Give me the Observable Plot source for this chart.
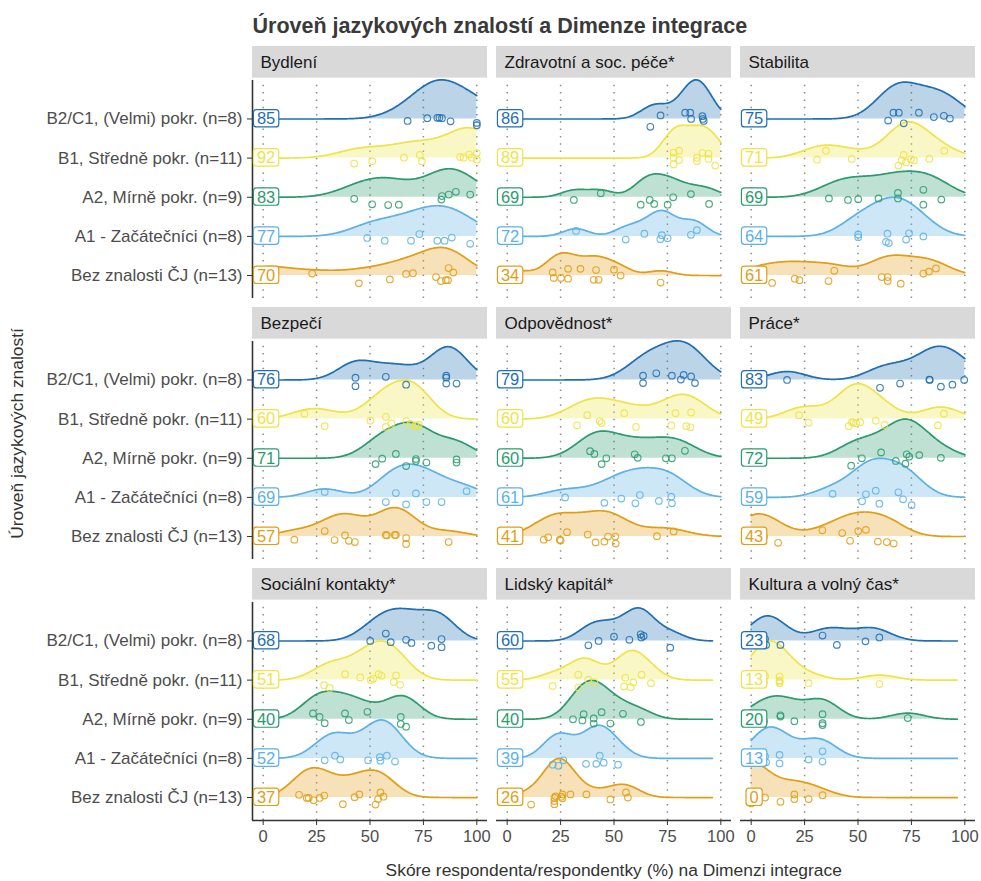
<!DOCTYPE html>
<html>
<head>
<meta charset="utf-8">
<script src="https://cdn.jsdelivr.net/npm/d3@7"></script>
<script src="https://cdn.jsdelivr.net/npm/@observablehq/plot@0.6"></script>
<style>
  body { margin: 0; background: #fff; }
  svg { display: block; }
</style>
</head>
<body>
<div id="chart"></div>
<script>
// ---------------- DATA ----------------
const chartTitle = "Úroveň jazykových znalostí a Dimenze integrace";
const xTitle = "Skóre respondenta/respondentky (%) na Dimenzi integrace";
const yTitle = "Úroveň jazykových znalostí";

const dimensions = ["Bydlení", "Zdravotní a soc. péče*", "Stabilita",
  "Bezpečí", "Odpovědnost*", "Práce*",
  "Sociální kontakty*", "Lidský kapitál*", "Kultura a volný čas*"];

// language levels, top row to bottom row
const levels = ["B2/C1, (Velmi) pokr. (n=8)", "B1, Středně pokr. (n=11)",
  "A2, Mírně pokr. (n=9)", "A1 - Začátečníci (n=8)", "Bez znalosti ČJ (n=13)"];
const levelColors = ["#1f6fb2", "#efe347", "#2b9b6e", "#5cb1e6", "#e39d14"];

const xTicks = [0, 25, 50, 75, 100];

// median labels per dimension (top row to bottom row)
const medians = [
  [85, 92, 83, 77, 70],
  [86, 89, 69, 72, 34],
  [75, 71, 69, 64, 61],
  [76, 60, 71, 69, 57],
  [79, 60, 60, 61, 41],
  [83, 49, 72, 59, 43],
  [68, 51, 40, 52, 37],
  [60, 55, 40, 39, 26],
  [23, 13, 20, 13, 0]
];

// respondent scores [score, vertical jitter (row units, + = down)], top row to bottom row
const bydleni = [
  [[67.6,.05],[76.8,-.02],[81.5,-.03],[82.5,-.03],[83.7,-.02],[87.7,.06],[100,.10],[100,.16]],
  [[42.6,.14],[51,.08],[65.9,-.01],[73.3,-.08],[74.3,.08],[92.2,-.03],[93.8,-.01],[96.4,-.09],[97.7,-.01],[100,-.13],[100,.04]],
  [[42.6,.04],[51,.18],[58.5,.2],[63.5,.19],[83.4,.06],[83.7,-.03],[86.9,-.07],[90.2,-.14],[96.9,-.07]],
  [[48.7,.04],[56.9,.11],[69.2,.11],[73.1,-.06],[81.5,.11],[84.9,.11],[88.3,.03],[96.9,.19]],
  [[0,.05],[3,-.05],[22.9,-.05],[44.8,.2],[59.3,.1],[66.9,-.04],[70.1,-.06],[80.9,.04],[83.2,.14],[85.5,.12],[86.5,.12],[86.8,-.19],[89,-.08]]
];
const zdravotni = [
  [[67,.2],[71.8,-.09],[83.3,-.16],[85.7,-.16],[86.1,0],[91.4,-.07],[91.6,0],[92,.05]],
  [[77.9,-.14],[80.5,-.19],[77.9,-.01],[80.5,.05],[77.9,.16],[88.8,-.01],[88.8,.08],[91.4,-.13],[94.2,-.11],[94.2,.02],[97.4,.19]],
  [[31.2,.07],[43.8,-.1],[62.5,.19],[66.7,.07],[68.8,.17],[75.1,.19],[77.7,0],[86,-.08],[94.5,.17]],
  [[32.2,-.14],[55.5,.08],[64.2,-.07],[71.7,.07],[72.4,-.03],[75.1,.05],[86,-.04],[88.8,-.16]],
  [[5,.05],[21.3,-.08],[21.8,.06],[25.2,.06],[28.5,-.17],[28.5,.08],[34.3,-.17],[41.6,-.14],[40.5,.11],[42.8,.11],[50,-.15],[53.1,0],[71.8,.18]]
];
const stabilita = [
  [[64.1,.04],[66.6,-.16],[69.1,-.16],[71.4,.11],[78.5,-.16],[85.5,-.05],[90.2,-.08],[93,-.01]],
  [[30.8,.04],[35,-.19],[47.1,.02],[68.9,.19],[70.4,.06],[71.4,-.08],[72.5,.11],[74.8,.03],[76.2,.06],[83.4,.02],[90.4,-.19]],
  [[36.4,.03],[45.3,.07],[50.1,.05],[59.6,.03],[68.7,-.11],[68.7,.03],[80.6,-.19],[80.6,.19],[89,.06]],
  [[50.1,-.05],[50.1,.02],[63.8,-.07],[63.1,.14],[64.4,.17],[72.5,.08],[73.9,-.08],[80.6,0]],
  [[3,0],[9.8,.19],[20.4,.08],[22.6,.12],[36.2,.14],[38.9,-.12],[61.1,.04],[63.9,.04],[63.9,.14],[70,.21],[80.6,-.05],[83.2,-.1],[86.5,-.18]]
];
const bezpeci = [
  [[43.2,-.06],[43.2,.16],[57.4,-.08],[66.9,.12],[85.7,-.11],[85.7,-.06],[85.7,.09],[90.5,.09]],
  [[19.3,-.14],[28.8,.18],[50.2,.04],[57.4,-.06],[57.4,.2],[60,.11],[66.9,.05],[69,.12],[71.2,.16],[72,.17],[72.8,.14]],
  [[52.6,.15],[55.7,.01],[62.1,-.11],[66.9,.2],[71.5,.02],[71.5,.07],[76.4,.11],[90.5,.03],[90.5,.11]],
  [[28.8,-.14],[57.4,.12],[62.1,-.11],[66.9,.18],[71.5,-.1],[76.4,.12],[83.5,.12],[95.2,-.16]],
  [[14.6,.08],[28.8,-.14],[33.4,.09],[38.3,-.03],[40.1,.11],[42.9,.14],[57.4,-.04],[57.9,-.03],[61.6,-.04],[62.1,-.04],[66.9,.04],[66.9,.19],[86.8,.14]]
];
const odpovednost = [
  [[63.6,-.11],[63.6,.08],[69.8,-.17],[77.1,-.11],[81.3,-.01],[82.6,-.13],[86.1,-.09],[87.9,.08]],
  [[32.7,.16],[37.5,-.1],[43.3,.05],[44.2,.1],[54.8,-.15],[60.3,.2],[76.8,.16],[78.8,-.15],[83.8,.18],[85.8,.21],[86.1,-.17]],
  [[38.8,-.18],[40.8,-.11],[44.2,.15],[46.4,0],[59.7,-.1],[61.1,-.01],[74.3,0],[77.1,0],[83.2,-.19]],
  [[27.1,0],[45.5,.14],[53.4,.03],[60,.15],[62.1,-.06],[71,.09],[76.8,-.02],[77.1,.15]],
  [[17.1,.08],[19.2,.02],[24.6,.08],[25,.1],[28,-.11],[37.7,-.05],[41.4,.15],[45.5,.13],[47.2,0],[50.6,0],[50.8,.18],[70.1,-.01],[77.9,-.13]]
];
const prace = [
  [[16.8,0],[60.3,.2],[69.7,.09],[83.4,-.01],[83.6,0],[88.8,.17],[94.2,.12],[99.7,0]],
  [[22.4,-.1],[26.9,.09],[45.6,.18],[47.1,.08],[47.9,.09],[49.1,.11],[51,.08],[58.3,.04],[62.4,.15],[87.4,.16],[90.2,-.14]],
  [[46.8,.19],[51.8,0],[60.8,-.15],[67.7,.07],[72.2,.14],[72.8,-.1],[74,-.04],[78.7,-.08],[88.8,-.01]],
  [[38.1,-.09],[51.9,.1],[53.7,-.08],[58.3,-.17],[60,.16],[68.9,-.13],[71.1,.05],[75.1,.2]],
  [[0,.05],[0,-.1],[3,.12],[6,0],[12.6,.16],[33.3,-.16],[42.6,-.09],[46.3,.11],[50.1,-.14],[53.7,-.17],[59.3,.13],[63.5,.14],[66.7,.18]]
];
const socialni = [
  [[50.1,0],[57.4,-.19],[59.7,.03],[66.9,-.03],[69.4,.05],[78.7,.12],[83.5,-.05],[83.5,.16]],
  [[28.5,.13],[31.1,.2],[38.3,-.15],[45.4,-.07],[50.4,0],[51.5,-.04],[54,-.15],[55.4,-.11],[61.1,.05],[62.2,-.12],[64.1,.12]],
  [[23.3,-.15],[26.4,-.06],[28.8,.1],[38.3,-.15],[40.1,.02],[48.8,-.19],[64.4,-.06],[64.4,.12],[66.9,.19]],
  [[28.8,.05],[33.6,-.07],[36.1,.03],[49.1,.05],[54.6,-.03],[54.9,.06],[57.9,-.07],[61.7,.08]],
  [[16.8,-.07],[20.4,.01],[21.3,.01],[23.6,.07],[26.4,.01],[28.6,-.05],[37.3,.17],[42.8,-.01],[45,-.08],[52.6,.18],[53.8,.04],[54.9,-.13],[56.3,-.02]]
];
const lidsky = [
  [[38,.11],[42.8,0],[50,-.11],[57.2,-.03],[62.5,-.17],[62.8,-.09],[63.9,-.13],[76.3,.17]],
  [[21.3,.15],[33.3,-.14],[33.3,.19],[38,-.01],[40.8,.05],[54.7,.16],[55.3,-.06],[57.8,.18],[59,.06],[62.9,-.14],[67.3,.08]],
  [[30.8,0],[35.2,.03],[35.8,-.13],[40.5,-.02],[40.5,.11],[44.2,-.18],[48.3,.11],[54.2,-.14],[62.6,.07]],
  [[21.3,.16],[24,.19],[26.3,.05],[36.9,.14],[41.7,.14],[43.3,-.07],[45.2,.11],[51.9,.16]],
  [[11.2,.18],[22.1,.01],[22.1,.09],[22.1,.17],[22.6,-.03],[25.4,-.02],[25.9,-.08],[25.9,.02],[29.6,-.08],[37.1,-.08],[48.3,.05],[55.6,-.13],[56.5,0]]
];
const kultura = [
  [[5,.05],[6.5,-.05],[7,.1],[13.7,.1],[33.4,-.14],[40.1,.1],[53.5,.01],[60,-.09]],
  [[3,0],[4.5,.1],[5.5,-.05],[6,.05],[6.5,-.1],[13.3,-.09],[13.3,.01],[13.3,.08],[13.3,.04],[26.9,.08],[60,.1]],
  [[3,0],[6,.05],[13.7,-.1],[13.7,-.07],[20.2,.05],[33.4,-.13],[33.4,.1],[33.4,.15],[73.3,-.03]],
  [[5,.05],[6.5,-.05],[7,.1],[13.3,-.09],[13.3,.13],[26.9,.03],[33.4,-.18],[33.4,.08]],
  [[0,0],[0,.05],[0,-.05],[0,.1],[0,-.1],[0,.15],[0,.02],[6.5,0],[13.7,.11],[20.2,-.08],[20.2,.04],[26.9,.04],[33.4,-.06]]
];
const scores = [bydleni, zdravotni, stabilita, bezpeci, odpovednost, prace, socialni, lidsky, kultura];

// ---------------- LAYOUT ----------------
const FONT = "'Liberation Sans', Arial, Helvetica, sans-serif";
const Y_MIN = -0.587, Y_MAX = 5.852;       // facet band in row units
const PANEL_TOP = 4.985, STRIP_LO = 5.043; // panel top / strip bottom
const X_MIN = -5, X_MAX = 105;

// ---------------- STAT: ridgeline densities (ggridges-like) ----------------
function bwNrd0(v) {
  const s = v.slice().sort(d3.ascending);
  const sd = d3.deviation(s) || 0;
  const iqr = (d3.quantile(s, 0.75) - d3.quantile(s, 0.25)) / 1.34;
  let lo = Math.min(sd, iqr);
  if (!(lo > 0)) lo = sd || Math.abs(s[0]) || 1;
  return 0.9 * lo * Math.pow(s.length, -0.2);
}
const gauss = u => Math.exp(-0.5 * u * u) / Math.sqrt(2 * Math.PI);

const facets = dimensions.map((name, i) => ({name, i, col: i % 3, row: Math.floor(i / 3)}));
const ridges = levels.map(() => []);
const dots = [];
const labels = [];
facets.forEach(f => {
  const groups = scores[f.i];
  const bw = d3.mean(groups, g => bwNrd0(g.map(p => p[0])));
  const all = groups.flat().map(p => p[0]);
  const from = Math.max(0, d3.min(all) - 3 * bw);
  const to = Math.min(100, d3.max(all) + 3 * bw);
  const N = 240;
  const xs = d3.range(N + 1).map(k => from + (to - from) * k / N);
  const dens = groups.map(g => xs.map(x => d3.sum(g, p => gauss((x - p[0]) / bw)) / (g.length * bw)));
  const maxD = d3.max(dens.flat());
  groups.forEach((g, t) => {
    const base = 4 - t;
    xs.forEach((x, k) => ridges[t].push({col: f.col, row: f.row, x, y0: base, y1: base + dens[t][k] / maxD}));
    g.forEach(p => dots.push({col: f.col, row: f.row, x: p[0], y: base - p[1], color: levelColors[t]}));
    labels.push({col: f.col, row: f.row, y: base, text: String(medians[f.i][t]), color: levelColors[t]});
  });
});
const grid = facets.flatMap(f => xTicks.map(x => ({col: f.col, row: f.row, x})));

// ---------------- PLOT ----------------
const marks = [
  Plot.rect(facets, {fx: "col", fy: "row", x1: () => X_MIN, x2: () => X_MAX, y1: () => STRIP_LO, y2: () => Y_MAX, fill: "#d9d9d9"}),
  Plot.text(facets, {fx: "col", fy: "row", x: () => X_MIN, y: () => (STRIP_LO + Y_MAX) / 2, text: "name",
    textAnchor: "start", dx: 8, fontSize: 17, fill: "#1a1a1a"}),
  Plot.ruleX(grid, {fx: "col", fy: "row", x: "x", y1: () => Y_MIN, y2: () => PANEL_TOP,
    stroke: "#8c8c8c", strokeWidth: 1.5, strokeDasharray: "1.5,5.8"}),
  ...levels.flatMap((l, t) => [
    Plot.area(ridges[t], {fx: "col", fy: "row", x1: "x", y1: "y0", y2: "y1", fill: levelColors[t], fillOpacity: 0.3}),
    Plot.line(ridges[t], {fx: "col", fy: "row", x: "x", y: "y1", stroke: levelColors[t], strokeWidth: 1.7})
  ]),
  Plot.dot(dots, {fx: "col", fy: "row", x: "x", y: "y", stroke: "color", r: 3.3, strokeWidth: 1.15, fill: "none", strokeOpacity: 0.85}),
  Plot.ruleX(facets.filter(f => f.col === 0), {fx: "col", fy: "row", x: () => X_MIN, y1: () => Y_MIN, y2: () => PANEL_TOP,
    stroke: "#333", strokeWidth: 1.6}),
  Plot.ruleY(facets.filter(f => f.row === 2), {fx: "col", fy: "row", y: () => Y_MIN, x1: () => X_MIN, x2: () => X_MAX,
    stroke: "#333", strokeWidth: 1.6}),
  Plot.text(labels, {fx: "col", fy: "row", x: () => X_MIN, y: "y", text: "text", fill: "color",
    textAnchor: "middle", dx: 13.6, fontSize: 16.5, className: "ridge-label"}),
  Plot.axisX({ticks: xTicks, tickSize: 5, tickPadding: 5, fontSize: 16.5, label: null, stroke: "#333", fill: "#4d4d4d"}),
  Plot.axisY({ticks: [0, 1, 2, 3, 4], tickFormat: v => levels[4 - v], tickSize: 5, tickPadding: 5,
    fontSize: 17, label: null, stroke: "#333", fill: "#4d4d4d"})
];

const svg = Plot.plot({
  width: 981, height: 881,
  marginTop: 46, marginBottom: 60, marginLeft: 252, marginRight: 5.5,
  facet: {marginTop: 0, marginRight: 0, marginBottom: 0, marginLeft: 0},
  x: {domain: [X_MIN, X_MAX]},
  y: {domain: [Y_MIN, Y_MAX]},
  fx: {domain: [0, 1, 2], axis: null, paddingInner: 0.035, paddingOuter: 0},
  fy: {domain: [0, 1, 2], axis: null, paddingInner: 0.034, paddingOuter: 0},
  color: {type: "identity"},
  style: {fontFamily: FONT, background: "white", overflow: "visible"},
  marks
});
document.getElementById("chart").append(svg);

// label boxes (white rounded box with coloured border behind each median label)
d3.select(svg).selectAll(".ridge-label text").each(function () {
  const bb = this.getBBox();
  const r = document.createElementNS("http://www.w3.org/2000/svg", "rect");
  r.setAttribute("x", bb.x - 3.5);
  r.setAttribute("y", bb.y + 0.3);
  r.setAttribute("width", bb.width + 7);
  r.setAttribute("height", bb.height - 0.6);
  r.setAttribute("rx", 3);
  r.setAttribute("fill", "white");
  r.setAttribute("stroke", this.getAttribute("fill") || "#333");
  r.setAttribute("stroke-width", 1.2);
  const tr = this.getAttribute("transform");
  if (tr) r.setAttribute("transform", tr);
  this.parentNode.insertBefore(r, this);
});

// titles
const s = d3.select(svg);
s.append("text").attr("x", 252.5).attr("y", 33).attr("text-anchor", "start").attr("font-size", 21.5).attr("font-weight", "bold")
  .attr("fill", "#3a3a3a").attr("font-family", FONT).text(chartTitle);
s.append("text").attr("x", (252 + 975.5) / 2).attr("y", 876).attr("text-anchor", "middle").attr("font-size", 17.4)
  .attr("fill", "#333").attr("font-family", FONT).text(xTitle);
s.append("text").attr("transform", "translate(23,433.5) rotate(-90)").attr("text-anchor", "middle").attr("font-size", 17.4)
  .attr("fill", "#333").attr("font-family", FONT).text(yTitle);
</script>
</body>
</html>
